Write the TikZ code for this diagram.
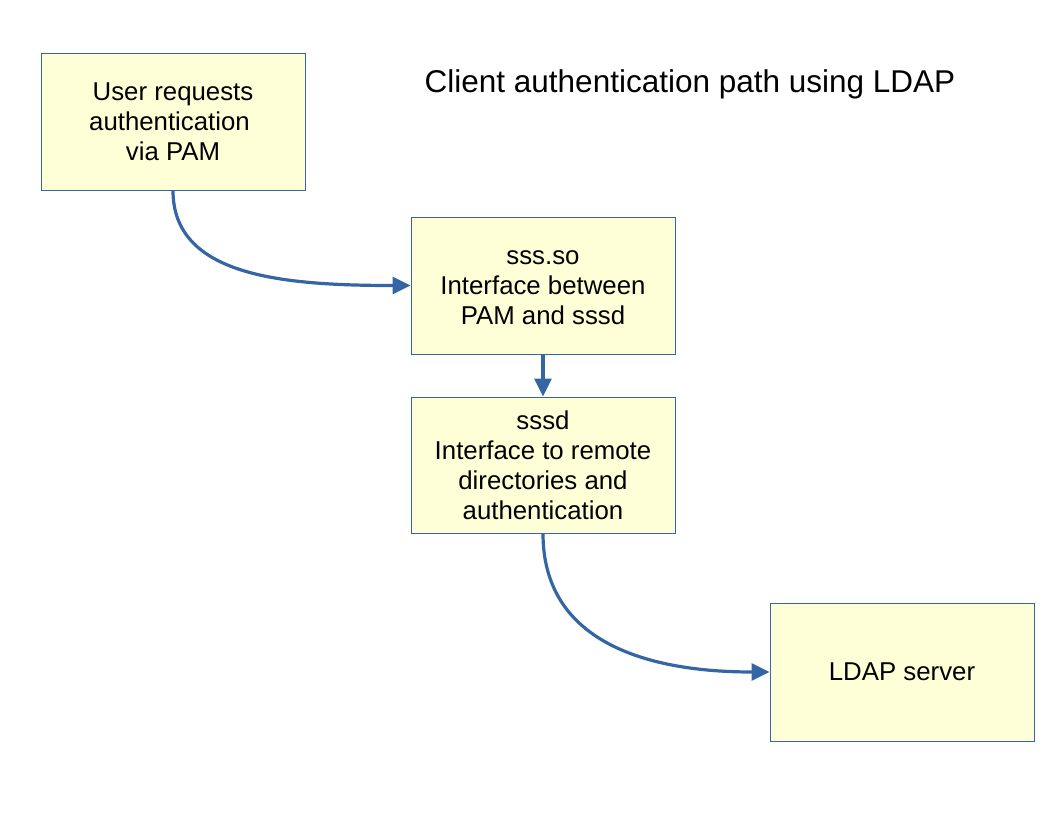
\documentclass[tikz,border=0pt]{standalone}
\usepackage{fontspec}
\setmainfont{Liberation Sans}
\usetikzlibrary{arrows.meta}
\definecolor{edge}{HTML}{3465A4}
\definecolor{boxfill}{HTML}{FFFFD7}
\tikzset{
  x=1pt, y=-1pt,
  box/.style={draw=edge, line width=1pt, fill=boxfill, minimum width=264pt, minimum height=136pt, inner sep=0pt, align=center, font=\fontsize{25.8}{30}\selectfont},
  boxtext/.style={align=center, inner sep=0pt, font=\fontsize{25.8}{30}\selectfont},
  conn/.style={draw=edge, line width=3.2pt, -{Triangle[length=18pt,width=17pt]}},
}
\begin{document}
\begin{tikzpicture}
\useasboundingbox (0,0) rectangle (1056,816);
\node[box] (user) at (173,122) {User requests\\authentication\rule{7pt}{0pt}\\via PAM};
\node[box, minimum height=137pt] (sss) at (543,285.5) {};
\node[boxtext] (ssstext) at (543,288) {sss.so\\Interface between\\PAM and sssd};
\node[box] (sssd) at (543,465) {sssd\\Interface to remote\\directories and\\authentication};
\node[box, minimum height=138pt] (ldap) at (902,672) {LDAP server};
\node[font=\fontsize{31.5}{36}\selectfont, anchor=center] (title) at (690,84) {Client authentication path using LDAP};
\draw[conn] (user.south) .. controls ++(0,85) and ++(-130,0) .. (sss.west);
\draw[conn] (sss.south) -- (sssd.north);
\draw[conn] (sssd.south) .. controls ++(0,110) and ++(-120,0) .. (ldap.west);
\end{tikzpicture}
\end{document}
